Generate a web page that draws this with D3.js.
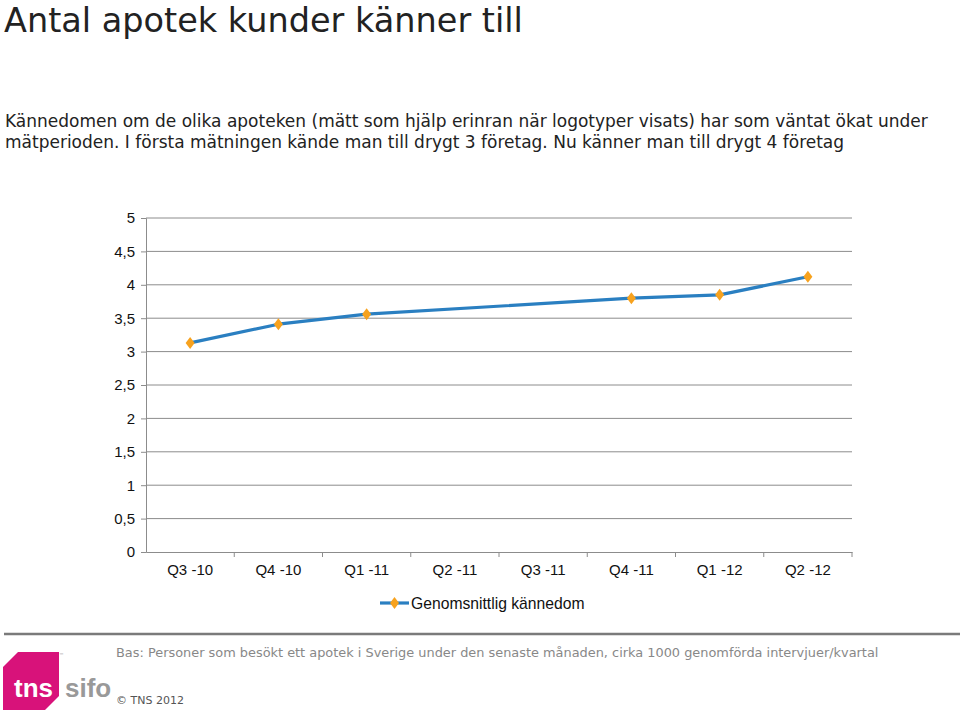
<!DOCTYPE html>
<html>
<head>
<meta charset="utf-8">
<script src="https://cdnjs.cloudflare.com/ajax/libs/d3/7.8.5/d3.min.js"></script>
<style>
  body { margin: 0; background: #fff; }
  svg text { font-family: "DejaVu Sans", Verdana, sans-serif; }
</style>
</head>
<body>
<svg id="chart" width="960" height="710"></svg>
<script>
// data
var quarters = ["Q3 -10", "Q4 -10", "Q1 -11", "Q2 -11", "Q3 -11", "Q4 -11", "Q1 -12", "Q2 -12"]
var kannedom = [3.13, 3.41, 3.56, null, null, 3.80, 3.85, 4.12]
var yTicks = [0, 0.5, 1, 1.5, 2, 2.5, 3, 3.5, 4, 4.5, 5]
var seriesName = "Genomsnittlig kännedom"

var title = "Antal apotek kunder känner till"
var intro = ["Kännedomen om de olika apoteken (mätt som hjälp erinran när logotyper visats) har som väntat ökat under",
  "mätperioden. I första mätningen kände man till drygt 3 företag. Nu känner man till drygt 4 företag"]
var bas = "Bas: Personer som besökt ett apotek i Sverige under den senaste månaden, cirka 1000 genomförda intervjuer/kvartal"

var lineColor = "#2a7fc1"
var markColor = "#f7a21e"
var gridColor = "#8c8c8c"

var svg = d3.select("#chart")

svg.append("text").attr("x", 4).attr("y", 32)
  .style("font-size", "33.5px").style("fill", "#222").text(title)

svg.selectAll(".intro").data(intro).enter().append("text")
  .attr("class", "intro")
  .attr("x", 5).attr("y", function (d, i) { return 127 + i * 21 })
  .style("font-size", "17px").style("fill", "#222")
  .text(function (d) { return d })

// plot
var pLeft = 146, pRight = 852, pTop = 218, pBottom = 552
var x = d3.scaleBand().domain(quarters).range([pLeft, pRight])
var y = d3.scaleLinear().domain([0, 5]).range([pBottom, pTop])

var g = svg.append("g")

g.selectAll(".grid").data(yTicks.filter(function (d) { return d > 0 })).enter().append("line")
  .attr("x1", pLeft).attr("x2", pRight)
  .attr("y1", function (d) { return y(d) }).attr("y2", function (d) { return y(d) })
  .style("stroke", gridColor).style("stroke-width", 1)

var yAxis = d3.axisLeft(y).tickValues(yTicks).tickSize(5).tickPadding(6)
  .tickFormat(function (d) { return String(d).replace(".", ",") })
var ya = g.append("g").attr("transform", "translate(" + pLeft + ",0)").call(yAxis)
ya.select(".domain").style("stroke", gridColor)
ya.selectAll(".tick line").style("stroke", gridColor)
ya.selectAll("text").style("font-family", "'Liberation Sans', Arial, sans-serif")
  .style("font-size", "15px").style("fill", "#111")

var xAxis = d3.axisBottom(x).tickSize(0).tickPadding(12)
var xa = g.append("g").attr("transform", "translate(0," + pBottom + ")").call(xAxis)
xa.select(".domain").style("stroke", gridColor)
xa.selectAll("text").style("font-family", "'Liberation Sans', Arial, sans-serif")
  .style("font-size", "15px").style("fill", "#111")
// category boundary ticks
xa.selectAll(".bnd").data(quarters).enter().append("line")
  .attr("x1", function (d) { return x(d) + x.bandwidth() }).attr("x2", function (d) { return x(d) + x.bandwidth() })
  .attr("y1", 0).attr("y2", 5).style("stroke", gridColor)

var pts = quarters.map(function (q, i) { return { q: q, v: kannedom[i] } })
  .filter(function (d) { return d.v != null })

var line = d3.line()
  .x(function (d) { return x(d.q) + x.bandwidth() / 2 })
  .y(function (d) { return y(d.v) })

g.append("path").datum(pts).attr("d", line)
  .style("fill", "none").style("stroke", lineColor).style("stroke-width", 3.2)
  .style("stroke-linejoin", "round")

var diamond = "M0,-6L4.5,0L0,6L-4.5,0Z"
g.selectAll(".mk").data(pts).enter().append("path")
  .attr("d", diamond)
  .attr("transform", function (d) { return "translate(" + (x(d.q) + x.bandwidth() / 2) + "," + y(d.v) + ")" })
  .style("fill", markColor)

// legend
var lg = svg.append("g").attr("transform", "translate(380,603)")
lg.append("line").attr("x1", 0).attr("x2", 29).attr("y1", 0).attr("y2", 0)
  .style("stroke", lineColor).style("stroke-width", 3.2)
lg.append("path").attr("d", diamond).attr("transform", "translate(14.5,0)").style("fill", markColor)
lg.append("text").attr("x", 31).attr("y", 5.5)
  .style("font-family", "'Liberation Sans', Arial, sans-serif")
  .style("font-size", "15.7px").style("fill", "#111").text(seriesName)

// footer
svg.append("line").attr("x1", 4).attr("x2", 960).attr("y1", 634).attr("y2", 634)
  .style("stroke", "#7a7a7a").style("stroke-width", 2.5)
svg.append("text").attr("x", 116).attr("y", 657)
  .style("font-size", "12.9px").style("fill", "#888").text(bas)
svg.append("text").attr("x", 116).attr("y", 704)
  .style("font-size", "11px").style("fill", "#555").text("© TNS 2012")

// tns sifo logo
var logo = svg.append("g")
logo.append("path")
  .attr("d", "M18,652L59,652L59,696L45,710L3,710L3,667Z")
  .style("fill", "#d8127a")
logo.append("text").attr("x", 59).attr("y", 657).style("font-size", "5px").style("fill", "#999").text("™")
logo.append("text").attr("x", 14).attr("y", 697)
  .style("font-family", "'Liberation Sans', Arial, sans-serif").style("font-weight", "bold")
  .style("font-size", "26px").style("fill", "#fff").text("tns")
logo.append("text").attr("x", 65).attr("y", 697)
  .style("font-family", "'Liberation Sans', Arial, sans-serif").style("font-weight", "bold")
  .style("font-size", "26px").style("fill", "#999").text("sifo")
</script>
</body>
</html>
